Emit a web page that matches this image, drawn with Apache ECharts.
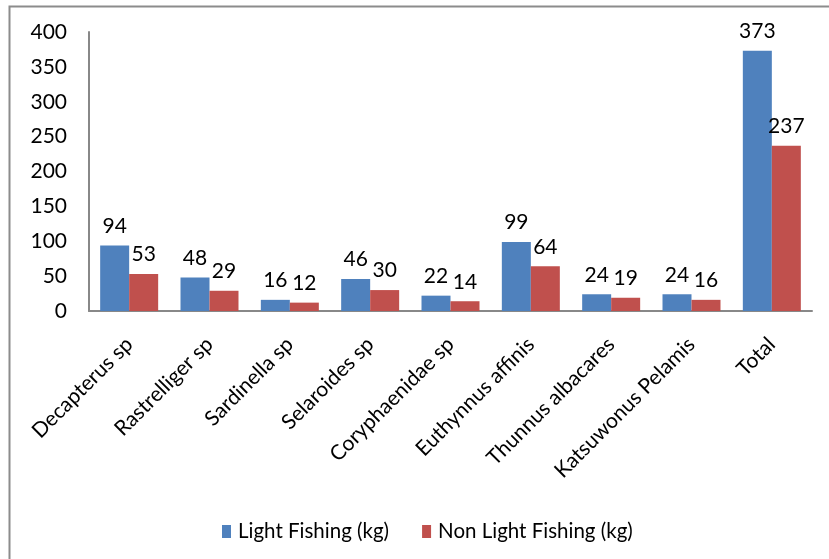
<!DOCTYPE html>
<html><head><meta charset="utf-8">
<script src="https://cdn.jsdelivr.net/npm/echarts@6/dist/echarts.min.js"></script>
<style>html,body{margin:0;padding:0;background:#fff}#c{width:829px;height:559px}</style>
</head><body><div id="c"></div>
<script>
const categories = ["Decapterus sp","Rastrelliger sp","Sardinella sp","Selaroides sp","Coryphaenidae sp","Euthynnus affinis","Thunnus albacares","Katsuwonus Pelamis","Total"];
const lightFishing = [94,48,16,46,22,99,24,24,373];
const nonLightFishing = [53,29,12,30,14,64,19,16,237];
const seriesNames = ["Light Fishing (kg)","Non Light Fishing (kg)"];
const yTicks = {min:0,max:400,interval:50};

const FONT = 'Lato';
const chart = echarts.init(document.getElementById('c'), null, {renderer:'canvas'});
chart.setOption({
  animation:false,
  textStyle:{fontFamily:FONT,color:'#000'},
  graphic:[{type:'rect',shape:{x:9.5,y:6.5,width:900,height:700},style:{fill:'none',stroke:'#8c8c8c',lineWidth:2}}],
  grid:{left:89,top:32,right:17,bottom:248},
  legend:{left:217,top:516,itemWidth:9,itemHeight:13,itemGap:33,icon:'rect',
    textStyle:{fontFamily:FONT,fontSize:20.5,color:'#000',padding:[0,0,0,2]},
    data:seriesNames},
  xAxis:{type:'category',data:categories,
    axisLine:{lineStyle:{color:'#888',width:2}},axisTick:{show:false},
    axisLabel:{rotate:45,fontSize:21,color:'#000',margin:30,interval:0,fontFamily:FONT}},
  yAxis:{type:'value',min:yTicks.min,max:yTicks.max,interval:yTicks.interval,
    axisLine:{show:true,lineStyle:{color:'#888',width:2}},axisTick:{show:false},splitLine:{show:false},
    axisLabel:{fontSize:21,color:'#000',margin:22,fontFamily:FONT}},
  series:[
    {name:seriesNames[0],type:'bar',data:lightFishing,barWidth:29,barGap:'0%',
     itemStyle:{color:'#4F81BD'},label:{show:true,position:'top',distance:9,fontSize:21,color:'#000',fontFamily:FONT}},
    {name:seriesNames[1],type:'bar',data:nonLightFishing,barWidth:29,barGap:'0%',
     itemStyle:{color:'#C0504D'},label:{show:true,position:'top',distance:9,fontSize:21,color:'#000',fontFamily:FONT}}
  ]
});
</script></body></html>
